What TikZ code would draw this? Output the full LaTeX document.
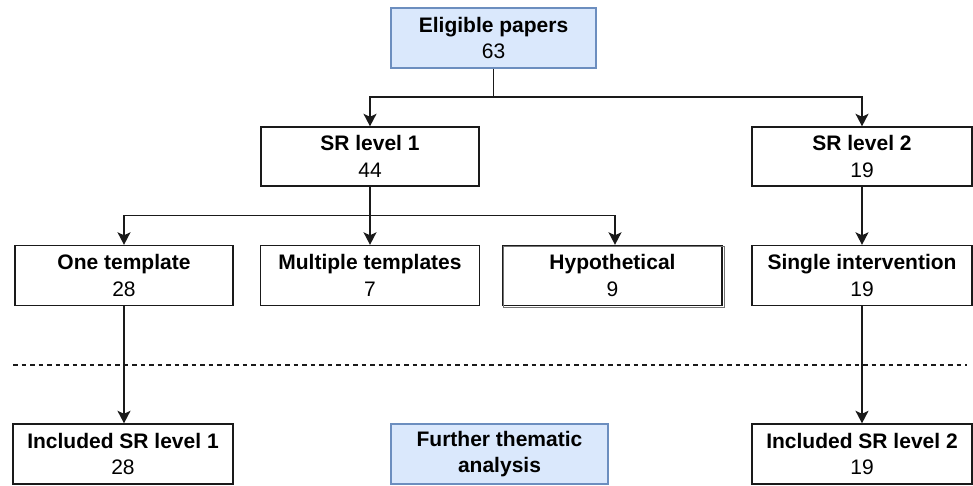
\documentclass[tikz,border=0pt]{standalone}
\usepackage{fontspec}
\setmainfont{Liberation Sans}
\usetikzlibrary{arrows.meta}
\definecolor{edgecol}{HTML}{1A1A1A}
\definecolor{bluefill}{HTML}{DAE8FC}
\definecolor{blueedge}{HTML}{6C8EBF}
\tikzset{
 box/.style={draw=edgecol, line width=1.4pt, rectangle, inner sep=0pt, align=center,
   font=\fontsize{21}{26.5}\selectfont, text=black, minimum height=60pt},
 bluebox/.style={box, fill=bluefill, draw=blueedge},
 conn/.style={draw=edgecol, line width=1.4pt, -{Stealth[length=12.5pt,width=13pt,inset=3pt]}},
 divider/.style={draw=edgecol, line width=1.2pt, dash pattern=on 4.5pt off 4pt},
}
\begin{document}
\begin{tikzpicture}[x=1pt,y=-1pt]
\useasboundingbox (0,0) rectangle (973,486);
% level 0
\node[bluebox, minimum width=205pt] (elig) at (493.5,38) {\textbf{Eligible papers}\\63};
% level 1
\node[box, minimum width=218pt, minimum height=59pt] (sr1) at (370,156.5) {\textbf{SR level 1}\\44};
\node[box, minimum width=220pt, minimum height=59pt] (sr2) at (862,156.5) {\textbf{SR level 2}\\19};
% level 2
\node[box, minimum width=218pt] (ot) at (124,275.5) {\textbf{One template}\\28};
\node[box, minimum width=219pt] (mt) at (370,275.5) {\textbf{Multiple templates}\\7};
\node[box, minimum width=219pt] (hyp) at (612.5,275.5) {\textbf{Hypothetical}\\9};
\draw[black!55, line width=1pt] ([shift={(1.6pt,-1.6pt)}]hyp.south west) rectangle ([shift={(1.6pt,-1.6pt)}]hyp.north east);
\node[box, minimum width=220pt] (si) at (862,275.5) {\textbf{Single intervention}\\19};
% bottom
\node[box, minimum width=220pt] (isr1) at (123,454) {\textbf{Included SR level 1}\\28};
\node[bluebox, minimum width=217pt] (fta) at (499.5,454) {\textbf{Further thematic}\\\textbf{analysis}};
\node[box, minimum width=220pt] (isr2) at (862,454) {\textbf{Included SR level 2}\\19};
% connectors
\coordinate (j1) at (493.5,97);
\draw[conn] (elig.south) -- (j1) -| (sr1.north);
\draw[conn] (j1) -| (sr2.north);
\coordinate (j2) at (370,215.5);
\draw[conn] (sr1.south) -- (mt.north);
\draw[conn] (j2) -| (ot.north);
\draw[conn] (j2) -| ([xshift=2.5pt]hyp.north);
\draw[conn] (sr2.south) -- (si.north);
\draw[conn] (ot.south) -- (ot.south |- isr1.north);
\draw[conn] (si.south) -- (isr2.north);
% divider
\coordinate (d1) at (13,365);
\coordinate (d2) at (967,365);
\draw[divider] (d1) -- (d2);
\end{tikzpicture}
\end{document}
